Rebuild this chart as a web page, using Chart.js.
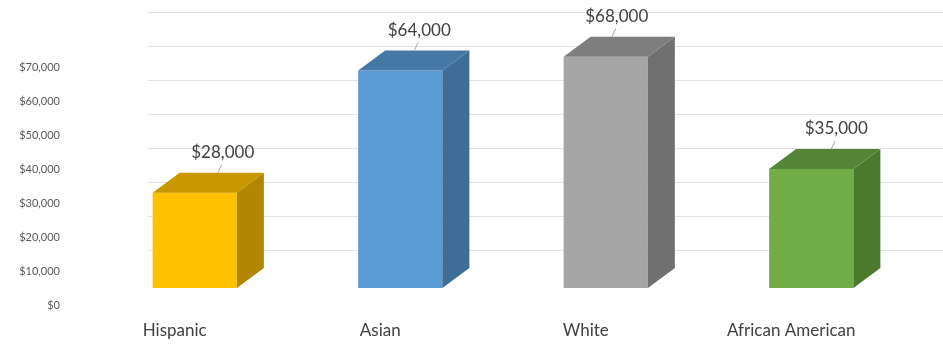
<!DOCTYPE html>
<html>
<head>
<meta charset="utf-8">
<script src="https://cdn.jsdelivr.net/npm/chart.js@4"></script>
<style>
  html, body { margin: 0; padding: 0; background: #ffffff; }
  #wrap { width: 943px; height: 345px; position: relative; }
</style>
</head>
<body>
<div id="wrap"><canvas id="myChart"></canvas></div>
<script>
// Median income by group
const groups = ['Hispanic', 'Asian', 'White', 'African American'];
const incomes = [28000, 64000, 68000, 35000];
const yTicks = [0, 10000, 20000, 30000, 40000, 50000, 60000, 70000];
const gridValues = [10000, 20000, 30000, 40000, 50000, 60000, 70000, 80000];

// Face colours: front, side, top
const frontColors = ['#FFC000', '#5B9BD5', '#A5A5A5', '#70AD47'];
const sideColors = ['#B38600', '#3E6D97', '#707070', '#4B7A2E'];
const topColors = ['#C99700', '#4678A6', '#7E7E7E', '#548435'];

// how far the value label sits right of the bar centre
const labelShift = [28, 19, 11, 25];
const DEPTH_X = 27, DEPTH_Y = -20;

const money = v => '$' + v.toLocaleString('en-US');

// Step 1: back wall gridlines + axis text
const wallPlugin = {
    id: 'wall',
    beforeDatasetsDraw(chart) {
        const c = chart.ctx;
        const y = chart.scales.y;
        c.save();
        c.strokeStyle = '#e3e3e3';
        c.lineWidth = 1;
        gridValues.forEach(v => {
            const py = Math.round(y.getPixelForValue(v) - 4) + 0.5;
            c.beginPath();
            c.moveTo(148, py);
            c.lineTo(chart.width, py);
            c.stroke();
        });
        // y labels sit a little below the front plane
        c.fillStyle = '#595959';
        c.font = '11px Lato, "Open Sans", sans-serif';
        c.textAlign = 'right';
        c.textBaseline = 'middle';
        yTicks.forEach(v => {
            c.fillText(money(v), 60, y.getPixelForValue(v) + 17);
        });
        // category labels
        const x = chart.scales.x;
        c.fillStyle = '#404040';
        c.font = '17px Lato, "Open Sans", sans-serif';
        c.textAlign = 'center';
        groups.forEach((g, i) => {
            c.fillText(g, x.getPixelForValue(i) - 20, 331);
        });
        c.restore();
    }
};

// Step 2: extrude each bar into a box and label it
const boxPlugin = {
    id: 'box',
    afterDatasetsDraw(chart) {
        const c = chart.ctx;
        const meta = chart.getDatasetMeta(0);
        c.save();
        meta.data.forEach((bar, i) => {
            const l = bar.x - bar.width / 2, r = bar.x + bar.width / 2;
            const t = bar.y, b = bar.base;
            // side face
            c.fillStyle = sideColors[i];
            c.beginPath();
            c.moveTo(r, t);
            c.lineTo(r + DEPTH_X, t + DEPTH_Y);
            c.lineTo(r + DEPTH_X, b + DEPTH_Y);
            c.lineTo(r, b);
            c.closePath();
            c.fill();
            // top face
            c.fillStyle = topColors[i];
            c.beginPath();
            c.moveTo(l, t);
            c.lineTo(l + DEPTH_X, t + DEPTH_Y);
            c.lineTo(r + DEPTH_X, t + DEPTH_Y);
            c.lineTo(r, t);
            c.closePath();
            c.fill();

            // value label with a short leader
            const lx = bar.x + labelShift[i];
            const ly = t - 40;
            c.strokeStyle = '#a6a6a6';
            c.lineWidth = 1;
            c.beginPath();
            c.moveTo(lx - 5, ly + 20);
            c.lineTo(lx - 1, ly + 12);
            c.stroke();
            c.fillStyle = '#404040';
            c.font = '17px Lato, "Open Sans", sans-serif';
            c.textAlign = 'center';
            c.textBaseline = 'middle';
            c.fillText(money(incomes[i]), lx, ly);
        });
        c.restore();
    }
};

const ctx = document.getElementById('myChart').getContext('2d');
const myChart = new Chart(ctx, {
    type: 'bar',
    data: {
        labels: groups,
        datasets: [{
            label: 'Income',
            data: incomes,
            backgroundColor: frontColors,
            borderWidth: 0,
            barPercentage: 0.41,
            categoryPercentage: 1
        }]
    },
    options: {
        responsive: true,
        maintainAspectRatio: false,
        animation: false,
        layout: { padding: { left: 92, right: 29, top: 16, bottom: 57 } },
        plugins: {
            legend: { display: false },
            tooltip: { enabled: false }
        },
        scales: {
            x: { display: false },
            y: { display: false, min: 0, max: 80000 }
        }
    },
    plugins: [wallPlugin, boxPlugin]
});
</script>
</body>
</html>
